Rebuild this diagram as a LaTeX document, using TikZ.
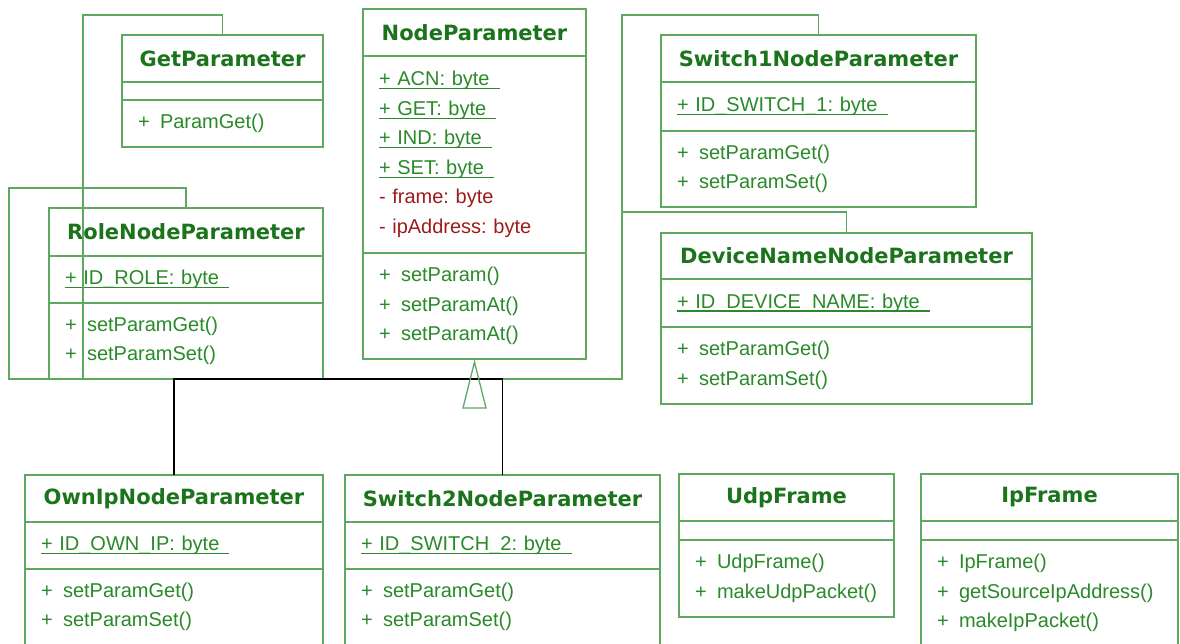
\documentclass[tikz,border=0pt]{standalone}
\usepackage{fontspec}
\setmainfont{Liberation Sans}
\newfontfamily\titlefont{DejaVu Sans}
\usepackage{tikz}
\usetikzlibrary{positioning,calc}
\frenchspacing

\definecolor{umlline}{HTML}{5FA85F}
\definecolor{umltext}{HTML}{2A8A2A}
\definecolor{umltitle}{HTML}{1B741B}
\definecolor{umlpriv}{HTML}{9E1B1B}

% static members are underlined, methods get a wider gap after the +
\newcommand{\static}[1]{\leavevmode\setbox0\hbox{#1\hspace{10pt}}\rlap{\rule[-3.5pt]{\wd0}{1.2pt}}\box0}
\newcommand{\op}[1]{\makebox[22pt][l]{+}#1}
\newcommand{\priv}[1]{\textcolor{umlpriv}{#1}}

\tikzset{
  classpart/.style={draw=umlline, line width=1.3pt, outer sep=0pt, inner ysep=0pt, inner xsep=16pt,
    anchor=north west, text=umltext, align=left, font=\fontsize{20}{29.5}\selectfont},
  classname/.style={classpart, align=center, text=umltitle, font=\titlefont\bfseries\fontsize{21}{24}\selectfont},
  inherit/.style={draw=umlline, line width=1.3pt},
  realize/.style={draw=black, line width=1.3pt}
}

\begin{document}
\begin{tikzpicture}[x=1pt,y=-1pt]
\clip (0,0) rectangle (1180,644);
\fill[white] (0,0) rectangle (1180,644);

% GetParameter
\node[classname, text width=169pt, minimum height=47pt] (getpar) at (122,35) {GetParameter};
\node[classpart, text width=169pt, minimum height=18pt, below=0pt of getpar] (getpar-att) {};
\node[classpart, text width=169pt, minimum height=47pt, below=0pt of getpar-att] (getpar-op) {\op{ParamGet()}};

% RoleNodeParameter
\node[classname, text width=242pt, minimum height=48pt] (role) at (49,208) {RoleNodeParameter};
\node[classpart, text width=242pt, minimum height=47pt, below=0pt of role] (role-att) {\static{+ ID\_ROLE: byte}};
\node[classpart, text width=242pt, minimum height=76pt, below=0pt of role-att] (role-op) {\op{setParamGet()}\\\op{setParamSet()}};

% NodeParameter
\node[classname, text width=191pt, minimum height=47pt] (nodepar) at (363,9) {NodeParameter};
\node[classpart, text width=191pt, minimum height=197pt, below=0pt of nodepar] (nodepar-att) {%
  \static{+ ACN: byte}\\\static{+ GET: byte}\\\static{+ IND: byte}\\\static{+ SET: byte}\\
  \priv{- frame: byte}\\\priv{- ipAddress: byte}};
\node[classpart, text width=191pt, minimum height=106pt, below=0pt of nodepar-att] (nodepar-op) {%
  \op{setParam()}\\\op{setParamAt()}\\\op{setParamAt()}};

% Switch1NodeParameter
\node[classname, text width=283pt, minimum height=47pt] (sw1) at (661,35) {Switch1NodeParameter};
\node[classpart, text width=283pt, minimum height=49pt, below=0pt of sw1] (sw1-att) {\static{+ ID\_SWITCH\_1: byte}};
\node[classpart, text width=283pt, minimum height=76pt, below=0pt of sw1-att] (sw1-op) {\op{setParamGet()}\\\op{setParamSet()}};

% DeviceNameNodeParameter
\node[classname, text width=339pt, minimum height=46pt] (devname) at (661,233) {DeviceNameNodeParameter};
\node[classpart, text width=339pt, minimum height=48pt, below=0pt of devname] (devname-att) {\static{+ ID\_DEVICE\_NAME: byte}};
\node[classpart, text width=339pt, minimum height=77pt, below=0pt of devname-att] (devname-op) {\op{setParamGet()}\\\op{setParamSet()}};

% OwnIpNodeParameter
\node[classname, text width=266pt, minimum height=47pt] (ownip) at (25,475) {OwnIpNodeParameter};
\node[classpart, text width=266pt, minimum height=47pt, below=0pt of ownip] (ownip-att) {\static{+ ID\_OWN\_IP: byte}};
\node[classpart, text width=266pt, minimum height=76pt, below=0pt of ownip-att] (ownip-op) {\op{setParamGet()}\\\op{setParamSet()}};

% Switch2NodeParameter
\node[classname, text width=283pt, minimum height=47pt] (sw2) at (345,475) {Switch2NodeParameter};
\node[classpart, text width=283pt, minimum height=47pt, below=0pt of sw2] (sw2-att) {\static{+ ID\_SWITCH\_2: byte}};
\node[classpart, text width=283pt, minimum height=76pt, below=0pt of sw2-att] (sw2-op) {\op{setParamGet()}\\\op{setParamSet()}};

% UdpFrame
\node[classname, text width=183pt, minimum height=47pt] (udp) at (679,474) {UdpFrame};
\node[classpart, text width=183pt, minimum height=19pt, below=0pt of udp] (udp-att) {};
\node[classpart, text width=183pt, minimum height=77pt, below=0pt of udp-att] (udp-op) {\op{UdpFrame()}\\\op{makeUdpPacket()}};

% IpFrame
\node[classname, text width=225pt, minimum height=47pt] (ipf) at (921,474) {IpFrame};
\node[classpart, text width=225pt, minimum height=19pt, below=0pt of ipf] (ipf-att) {};
\node[classpart, text width=225pt, minimum height=106pt, below=0pt of ipf-att] (ipf-op) {%
  \op{IpFrame()}\\\op{getSourceIpAddress()}\\\op{makeIpPacket()}};

% generalization to NodeParameter
\coordinate (bus) at ($(nodepar-op.south)+(0,20)$);
\draw[inherit] (getpar.north) -- ++(0,-20) -| (83,379) -- (bus);
\draw[inherit] (role.north) -- ++(0,-20) -| (9,379) -- (bus);
\draw[inherit] (sw1.north) -- ++(0,-20) -| (622,379) -- (bus);
\draw[inherit] (devname.north) -- ++(0,-21) -| (622,379);
\draw[realize] (ownip.north) |- (bus);
\draw[realize] (sw2.north) |- (bus);
\draw[inherit] ($(nodepar-op.south)+(0,3)$) -- ++(-11.5,46) -- ++(23,0) -- cycle;
\end{tikzpicture}
\end{document}
